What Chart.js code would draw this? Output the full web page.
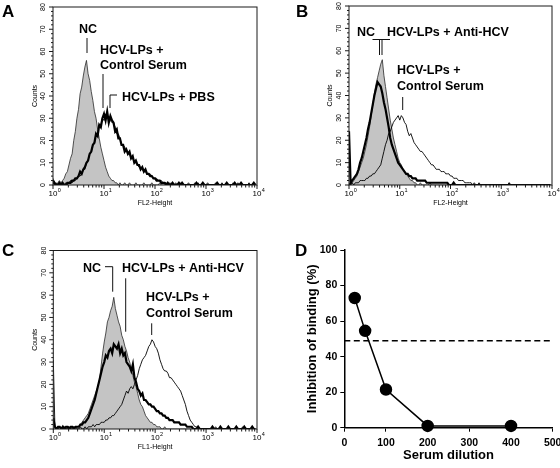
<!DOCTYPE html>
<html>
<head>
<meta charset="utf-8">
<script src="https://cdn.jsdelivr.net/npm/chart.js@4.4.1/dist/chart.umd.min.js"></script>
<style>
  body { margin: 0; background: #fff; width: 560px; height: 468px; overflow: hidden; position: relative; }
  canvas { position: absolute; }
</style>
</head>
<body>
<canvas id="panelA" width="280" height="230" style="left:0;top:0"></canvas>
<canvas id="panelB" width="280" height="230" style="left:280px;top:0"></canvas>
<canvas id="panelC" width="280" height="238" style="left:0;top:230px"></canvas>
<canvas id="panelD" width="288" height="238" style="left:280px;top:230px"></canvas>
<script>
// histogram channels: 32 per decade, 10^0 .. 10^4
const binsPerDecade = 32;
const bins = Array.from({length: 128}, (_, i) => i);
const countTicks = [0, 10, 20, 30, 40, 50, 60, 70, 80];
const decades = ['0', '1', '2', '3', '4'];

// A: NC, HCV-LPs + control serum, HCV-LPs + PBS
const ncA = [
  3,1,0,1,2,1,2,3,5,6,9,12,14,20,24,30,
  34,41,44,49,53,56,50,47,42,38,33,30,25,21,17,14,
  11,8,6,4,3,2,2,1,1,0,1,0,0,1,0,0,
  1,0,0,0,1,0,0,0,0,1,0,0,0,0,1,0,
  0,0,0,1,0,0,0,0,0,0,1,0,0,0,0,1,
  0,0,0,0,0,0,0,0,0,1,0,0,0,0,1,0,
  0,0,0,0,0,0,1,0,0,0,0,0,0,1,0,0,
  0,1,0,0,0,0,1,0,0,0,0,0,0,0,1,0];
const ctrlA = [
  1,0,1,0,0,1,0,0,1,0,1,2,1,2,2,3,
  4,4,5,7,7,10,11,14,15,18,19,23,23,27,27,30,
  29,32,30,31,29,28,28,26,23,23,21,18,18,17,16,14,
  14,12,12,10,10,9,8,8,7,6,6,5,5,5,4,3,
  3,3,2,2,2,1,1,1,0,1,0,0,0,1,0,0,
  1,0,0,0,0,1,0,0,0,0,0,1,0,0,0,0,
  0,1,0,0,0,0,0,0,0,0,1,0,0,0,0,0,
  0,0,0,0,1,0,0,0,0,0,0,1,0,0,0,0];
const pbsA = [
  2,1,0,0,1,0,1,0,0,1,1,1,2,2,3,3,
  4,6,5,7,8,10,11,14,15,18,19,23,22,27,26,30,
  32,29,33,28,31,29,28,24,25,21,21,18,18,15,16,14,
  15,12,13,10,11,9,9,7,8,6,7,5,5,4,4,3,
  3,2,2,2,1,1,1,0,1,0,0,1,0,0,0,1,
  0,1,0,0,0,0,0,0,0,0,1,0,0,0,1,0,
  0,0,0,0,0,0,0,1,0,0,0,0,0,1,0,0,
  0,0,1,0,0,0,1,0,0,0,0,0,0,0,1,0];

// B: NC, HCV-LPs + anti-HCV, HCV-LPs + control serum
const ncB = [
  1,0,1,2,3,4,6,8,10,12,15,18,22,26,31,36,
  41,45,48,51,54,56,49,44,39,34,29,25,21,18,15,12,
  10,9,7,6,5,4,3,2,2,1,1,0,0,1,0,0,
  0,0,0,1,0,0,0,0,0,0,0,0,0,0,0,0,
  0,0,0,0,0,0,0,0,0,0,0,0,0,0,0,0,
  0,0,0,0,0,0,0,0,0,0,0,0,0,0,0,0,
  0,0,0,0,0,1,0,0,0,0,0,0,0,0,0,0,
  0,0,0,0,0,0,0,0,0,0,0,0,0,0,0,0];
const antiB = [
  24,1,2,3,4,5,7,10,12,15,18,21,25,28,32,36,
  40,43,46,45,44,41,37,34,30,26,21,18,16,14,12,10,
  9,8,7,6,5,5,4,4,3,3,3,2,2,2,2,2,
  2,1,1,1,1,1,1,1,1,1,1,1,1,1,1,0,
  0,0,1,0,0,0,0,0,0,0,0,0,0,0,0,0,
  0,0,0,0,0,0,0,0,0,0,0,0,0,0,0,0,
  0,0,0,0,0,0,0,0,0,0,0,0,0,0,0,0,
  0,0,0,0,0,0,0,0,0,0,0,0,0,0,0,0];
const ctrlB = [
  0,0,1,0,1,1,1,2,2,2,2,3,3,4,4,5,
  5,6,7,8,9,12,15,18,20,23,24,26,28,29,30,31,
  29,31,30,28,27,24,22,23,21,19,18,17,16,15,15,14,
  13,12,11,10,9,9,8,7,7,7,6,6,6,5,5,5,
  4,4,3,3,3,2,2,2,2,1,1,1,1,1,0,1,
  0,0,1,0,0,0,0,0,0,0,0,0,0,0,0,0,
  0,0,0,0,0,1,0,0,0,0,0,0,0,0,0,0,
  0,0,0,0,0,0,0,0,0,0,0,0,0,0,0,0];

// C: NC, HCV-LPs + anti-HCV, HCV-LPs + control serum
const ncC = [
  2,1,0,1,1,0,1,1,0,1,1,0,1,1,1,1,
  1,2,3,4,5,6,7,9,11,13,15,17,19,22,28,34,
  39,43,48,50,53,55,59,54,51,48,46,42,40,37,35,32,
  30,27,24,21,19,16,13,11,10,8,6,5,4,3,3,2,
  2,1,1,1,0,0,1,0,0,0,0,0,0,0,0,0,
  0,0,0,0,0,0,0,0,0,0,0,0,0,0,0,0,
  0,0,0,0,0,0,0,0,0,0,0,0,0,0,0,0,
  0,0,0,0,0,0,0,0,0,0,0,0,0,0,0,0];
const antiC = [
  5,1,0,1,1,0,1,0,1,1,0,1,1,0,1,1,
  1,2,2,3,3,4,5,7,9,11,13,16,19,22,25,28,
  30,33,32,35,36,34,38,37,36,38,34,36,33,34,30,29,
  28,26,29,23,21,18,17,15,16,13,13,12,11,11,10,10,
  9,8,8,7,7,6,6,5,5,4,4,4,3,3,3,3,
  2,2,2,2,1,1,1,1,0,0,0,1,0,0,0,0,
  0,0,0,0,1,0,0,0,0,1,0,0,0,0,1,0,
  0,0,0,1,0,0,0,0,1,0,0,0,0,1,0,0];
const ctrlC = [
  31,1,0,0,1,0,0,1,0,0,1,0,0,0,1,0,
  0,1,0,0,1,0,1,1,1,2,1,2,2,2,3,3,
  3,4,4,5,5,6,6,7,8,9,10,11,13,15,17,16,
  18,19,18,20,22,24,27,29,31,32,33,35,37,38,40,39,
  37,36,34,31,29,27,26,26,25,23,23,22,21,20,19,18,
  17,15,13,11,8,6,4,3,2,1,1,0,0,0,0,0,
  0,0,0,0,0,0,1,0,0,0,0,0,0,0,0,0,
  0,0,0,0,0,0,0,1,0,0,0,0,0,0,0,0];

// D: inhibition of binding vs serum dilution
const dilution = [25, 50, 100, 200, 400];
const inhibition = [73, 54.5, 21.5, 1, 1];
const threshold = 49;

Chart.defaults.font.family = '"Liberation Sans", Arial, sans-serif';
Chart.defaults.color = '#000';

function line(ctx, x1, y1, x2, y2) {
  ctx.beginPath();
  ctx.moveTo(x1, y1);
  ctx.lineTo(x2, y2);
  ctx.stroke();
}

// frame, log ticks and rotated count labels of the flow cytometry panels
const facsAxes = {
  id: 'facsAxes',
  afterDraw(chart) {
    const {ctx, chartArea: a, scales: {x, y}} = chart;
    ctx.save();
    ctx.strokeStyle = '#1a1a1a';
    ctx.lineWidth = 1;
    ctx.strokeRect(a.left, a.top, a.right - a.left, a.bottom - a.top);
    for (let d = 0; d < 4; d++) {
      for (let k = 1; k < 10; k++) {
        const px = x.getPixelForValue((d + Math.log10(k)) * binsPerDecade);
        line(ctx, px, a.bottom, px, a.bottom + (k === 1 ? 4 : 2.5));
      }
    }
    line(ctx, a.right, a.bottom, a.right, a.bottom + 4);
    for (let v = 0; v <= 80; v += 2) {
      const py = y.getPixelForValue(v);
      line(ctx, a.left - (v % 10 ? 2 : 4), py, a.left, py);
    }
    ctx.fillStyle = '#000';
    decades.forEach((d, i) => {
      const px = x.getPixelForValue(i * binsPerDecade);
      ctx.font = '8px "Liberation Sans"';
      ctx.textAlign = 'center';
      ctx.textBaseline = 'middle';
      ctx.fillText('10', px, a.bottom + 8.5);
      const w = ctx.measureText('10').width;
      ctx.font = '5.5px "Liberation Sans"';
      ctx.textAlign = 'left';
      ctx.fillText(d, px + w / 2 + 0.3, a.bottom + 5.5);
    });
    ctx.font = '7px "Liberation Sans"';
    ctx.textAlign = 'center';
    countTicks.forEach(v => {
      ctx.save();
      ctx.translate(a.left - 9.5, y.getPixelForValue(v));
      ctx.rotate(-Math.PI / 2);
      ctx.fillText(String(v), 0, 0);
      ctx.restore();
    });
    ctx.restore();
  }
};

// panel letter, curve labels and leader lines, given in page coordinates
function notes(ox, oy, letter, texts, lines) {
  return {
    id: 'notes',
    afterDraw(chart) {
      const ctx = chart.ctx;
      ctx.save();
      ctx.translate(-ox, -oy);
      ctx.fillStyle = '#000';
      ctx.strokeStyle = '#111';
      ctx.lineWidth = 1;
      ctx.textAlign = 'left';
      ctx.textBaseline = 'alphabetic';
      ctx.font = 'bold 17px "Liberation Sans"';
      ctx.fillText(letter[0], letter[1], letter[2]);
      ctx.font = 'bold 12.5px "Liberation Sans"';
      texts.forEach(t => ctx.fillText(t[0], t[1], t[2]));
      lines.forEach(l => line(ctx, l[0], l[1], l[2], l[3]));
      ctx.restore();
    }
  };
}

function facsChart(id, box, sets, xTitle, notePlugin) {
  return new Chart(document.getElementById(id), {
    type: 'line',
    data: {
      labels: bins,
      datasets: sets.map(s => ({
        data: s.data,
        borderColor: s.fill ? '#2a2a2a' : '#000',
        borderWidth: s.w,
        backgroundColor: '#c4c4c4',
        fill: s.fill ? 'origin' : false,
        pointRadius: 0,
        tension: 0
      }))
    },
    options: {
      responsive: false,
      animation: false,
      devicePixelRatio: 1,
      layout: { padding: { top: box.top, right: box.right, left: 0, bottom: 0 } },
      plugins: { legend: { display: false }, tooltip: { enabled: false } },
      scales: {
        x: {
          type: 'linear', min: 0, max: 128,
          grid: { display: false }, border: { display: false }, ticks: { display: false },
          title: { display: true, text: xTitle, font: { size: 7 }, padding: { top: 0, bottom: box.xtp } },
          afterFit: s => { s.height = box.xh; }
        },
        y: {
          min: 0, max: 80,
          grid: { display: false }, border: { display: false }, ticks: { display: false },
          title: { display: true, text: 'Counts', font: { size: 7 }, padding: { top: box.ytp, bottom: 0 } },
          afterFit: s => { s.width = box.yw; }
        }
      }
    },
    plugins: [facsAxes, notePlugin]
  });
}

facsChart('panelA', { top: 7, right: 23, yw: 53, xh: 45, xtp: 22.3, ytp: 31 }, [
  { data: pbsA, w: 2.2 },
  { data: ctrlA, w: 0.9 },
  { data: ncA, w: 0.8, fill: true }
], 'FL2-Height', notes(0, 0, ['A', 2, 17], [
  ['NC', 79, 33],
  ['HCV-LPs +', 100, 54],
  ['Control Serum', 100, 68.5],
  ['HCV-LPs + PBS', 122, 101]
], [
  [87, 38, 87, 53],
  [103, 74, 103, 108],
  [110, 95, 117, 95],
  [110, 95, 110, 108]
]));

facsChart('panelB', { top: 6, right: 8, yw: 69, xh: 45, xtp: 22.8, ytp: 45.5 }, [
  { data: antiB, w: 2.2 },
  { data: ctrlB, w: 0.9 },
  { data: ncB, w: 0.8, fill: true }
], 'FL2-Height', notes(280, 0, ['B', 296, 16.5], [
  ['NC', 357, 36],
  ['HCV-LPs + Anti-HCV', 387, 36],
  ['HCV-LPs +', 397, 73.5],
  ['Control Serum', 397, 90]
], [
  [372.5, 39.5, 390, 39.5],
  [379.5, 39.5, 379.5, 55],
  [382, 39.5, 382, 55],
  [402.7, 97, 402.7, 110]
]));

facsChart('panelC', { top: 20.5, right: 23, yw: 53.3, xh: 39, xtp: 16.8, ytp: 31 }, [
  { data: antiC, w: 2.2 },
  { data: ctrlC, w: 0.9 },
  { data: ncC, w: 0.8, fill: true }
], 'FL1-Height', notes(0, 230, ['C', 2, 255.5], [
  ['NC', 83, 272],
  ['HCV-LPs + Anti-HCV', 122, 272],
  ['HCV-LPs +', 146, 300.5],
  ['Control Serum', 146, 317]
], [
  [105, 266.7, 112.7, 266.7],
  [112.7, 266.7, 112.7, 291.7],
  [125.7, 278.3, 125.7, 331.7],
  [151.7, 323.3, 151.7, 335]
]));

const boldTick = { size: 10.5, weight: 'bold' };
new Chart(document.getElementById('panelD'), {
  type: 'line',
  data: {
    datasets: [{
      data: dilution.map((d, i) => ({ x: d, y: inhibition[i] })),
      borderColor: '#000',
      borderWidth: 1.5,
      pointRadius: 5.5,
      pointBackgroundColor: '#000',
      pointBorderColor: '#000',
      clip: false,
      tension: 0
    }, {
      data: [{ x: 0, y: threshold }, { x: 500, y: threshold }],
      borderColor: '#000',
      borderWidth: 1.5,
      borderDash: [6, 3.5],
      pointRadius: 0
    }]
  },
  options: {
    responsive: false,
    animation: false,
    devicePixelRatio: 1,
    layout: { padding: { top: 20, right: 15.3, left: 0, bottom: 0 } },
    plugins: { legend: { display: false }, tooltip: { enabled: false } },
    scales: {
      x: {
        type: 'linear', min: 0, max: 500,
        ticks: { stepSize: 100, font: boldTick, padding: 5 },
        grid: { display: true, drawOnChartArea: false, tickLength: 4, color: '#000' },
        border: { display: true, color: '#000', width: 1.5 },
        title: { display: true, text: 'Serum dilution', font: { size: 13, weight: 'bold' }, padding: { top: 0, bottom: 5 } },
        afterFit: s => { s.height = 40.3; }
      },
      y: {
        min: 0, max: 100,
        ticks: { stepSize: 20, font: boldTick, padding: 3 },
        grid: { display: true, drawOnChartArea: false, tickLength: 4, color: '#000' },
        border: { display: true, color: '#000', width: 1.5 },
        title: { display: true, text: 'Inhibition of binding (%)', font: { size: 13, weight: 'bold' }, padding: { top: 25, bottom: 0 } },
        afterFit: s => { s.width = 64.3; }
      }
    }
  },
  plugins: [notes(280, 230, ['D', 295, 255.5], [], [])]
});
</script>
</body>
</html>
